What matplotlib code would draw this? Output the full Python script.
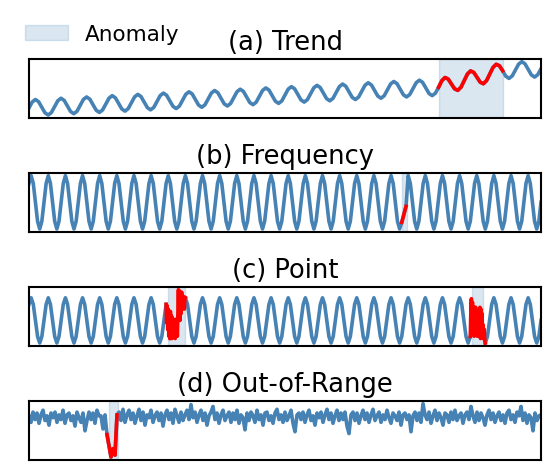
import matplotlib

matplotlib.use("Agg")
import matplotlib.pyplot as plt
import numpy as np

nan = float("nan")

titles = ["(a) Trend", "(b) Frequency", "(c) Point", "(d) Out-of-Range"]
legend_label = "Anomaly"

# (a) slow trend, then a steeper rise inside the anomaly window
trend_values = [
    0.00, 0.73, 1.04, 0.77, 0.08, -0.61, -0.88, -0.57,
    0.16, 0.89, 1.20, 0.93, 0.24, -0.45, -0.72, -0.41,
    0.32, 1.05, 1.36, 1.09, 0.40, -0.29, -0.56, -0.25,
    0.48, 1.21, 1.52, 1.25, 0.56, -0.13, -0.40, -0.09,
    0.64, 1.37, 1.68, 1.41, 0.72, 0.03, -0.24, 0.07,
    0.80, 1.53, 1.84, 1.57, 0.88, 0.19, -0.08, 0.23,
    0.96, 1.69, 2.00, 1.73, 1.04, 0.35, 0.08, 0.39,
    1.12, 1.85, 2.16, 1.89, 1.20, 0.51, 0.24, 0.55,
    1.28, 2.01, 2.32, 2.05, 1.36, 0.67, 0.40, 0.71,
    1.44, 2.17, 2.48, 2.21, 1.52, 0.83, 0.56, 0.87,
    1.60, 2.33, 2.64, 2.37, 1.68, 0.99, 0.72, 1.03,
    1.76, 2.49, 2.80, 2.53, 1.84, 1.15, 0.88, 1.19,
    1.92, 2.65, 2.96, 2.69, 2.00, 1.31, 1.04, 1.35,
    2.08, 2.81, 3.12, 2.85, 2.16, 1.47, 1.20, 1.51,
    2.24, 2.97, 3.28, 3.01, 2.32, 1.63, 1.36, 1.67,
    2.40, 3.13, 3.44, 3.17, 2.48, 1.79, 1.52, 1.83,
    2.56, 3.37, 3.77, 3.58, 2.97, 2.37, 2.18, 2.57,
    3.38, 4.20, 4.59, 4.40, 3.80, 3.19, 3.00, 3.40,
    4.21, 5.02, 5.41, 5.23, 4.62, 3.93, 3.66, 3.97,
    4.70, 5.43, 5.74, 5.47, 4.78, 4.09, 3.82, 4.13,
    4.86,
]
trend_red = (128, 148)
trend_span = (128, 148)

# (b) regular sine, slowed down for a few samples
freq_values = [
    0.71, 1, 0.71, 0, -0.71, -1, -0.71, 0,
    0.71, 1, 0.71, 0, -0.71, -1, -0.71, 0,
    0.71, 1, 0.71, 0, -0.71, -1, -0.71, 0,
    0.71, 1, 0.71, 0, -0.71, -1, -0.71, 0,
    0.71, 1, 0.71, 0, -0.71, -1, -0.71, 0,
    0.71, 1, 0.71, 0, -0.71, -1, -0.71, 0,
    0.71, 1, 0.71, 0, -0.71, -1, -0.71, 0,
    0.71, 1, 0.71, 0, -0.71, -1, -0.71, 0,
    0.71, 1, 0.71, 0, -0.71, -1, -0.71, 0,
    0.71, 1, 0.71, 0, -0.71, -1, -0.71, 0,
    0.71, 1, 0.71, 0, -0.71, -1, -0.71, 0,
    0.71, 1, 0.71, 0, -0.71, -1, -0.71, 0,
    0.71, 1, 0.71, 0, -0.71, -1, -0.71, 0,
    0.71, 1, 0.71, 0, -0.71, -1, -0.71, 0,
    0.71, 1, 0.71, 0, -0.71, -1, -0.71, 0,
    0.71, 1, 0.71, 0, -0.71, -1, -0.71, 0,
    0.71, 1, 0.71, 0, -0.71, -1, -0.71, 0,
    0.71, 1, 0.71, 0, -0.71, -1, -0.71, 0,
    0.71, 1, 0.71, 0, -0.71, -1, -0.71, 0,
    0.71, 1, 0.71, 0, -0.71, -1, -0.71, 0,
    0.71, 1, 0.71, 0, -0.71, -1, -0.71, 0,
    0.71, 1, 0.71, 0, -0.71, -1, -0.75, -0.45,
    -0.15, 1, 0.71, 0, -0.71, -1, -0.71, 0,
    0.71, 1, 0.71, 0, -0.71, -1, -0.71, 0,
    0.71, 1, 0.71, 0, -0.71, -1, -0.71, 0,
    0.71, 1, 0.71, 0, -0.71, -1, -0.71, 0,
    0.71, 1, 0.71, 0, -0.71, -1, -0.71, 0,
    0.71, 1, 0.71, 0, -0.71, -1, -0.71, 0,
    0.71, 1, 0.71, 0, -0.71, -1, -0.71, 0,
    0.71, 1, 0.71, 0, -0.71, -1, -0.71, 0,
]
freq_red = (174, 176)
freq_span = (174.3, 176.5)

# (c) same sine, two noisy bursts (gaps filled by the red segments)
point_values = [
    0.71, 1, 0.71, 0, -0.71, -1, -0.71, 0,
    0.71, 1, 0.71, 0, -0.71, -1, -0.71, 0,
    0.71, 1, 0.71, 0, -0.71, -1, -0.71, 0,
    0.71, 1, 0.71, 0, -0.71, -1, -0.71, 0,
    0.71, 1, 0.71, 0, -0.71, -1, -0.71, 0,
    0.71, 1, 0.71, 0, -0.71, -1, -0.71, 0,
    0.71, 1, 0.71, 0, -0.71, -1, -0.71, 0,
    0.71, 1, 0.71, 0, -0.71, -1, -0.71, 0,
    0.71, nan, nan, nan, nan, nan, nan, nan,
    nan, 1, 0.71, 0, -0.71, -1, -0.71, 0,
    0.71, 1, 0.71, 0, -0.71, -1, -0.71, 0,
    0.71, 1, 0.71, 0, -0.71, -1, -0.71, 0,
    0.71, 1, 0.71, 0, -0.71, -1, -0.71, 0,
    0.71, 1, 0.71, 0, -0.71, -1, -0.71, 0,
    0.71, 1, 0.71, 0, -0.71, -1, -0.71, 0,
    0.71, 1, 0.71, 0, -0.71, -1, -0.71, 0,
    0.71, 1, 0.71, 0, -0.71, -1, -0.71, 0,
    0.71, 1, 0.71, 0, -0.71, -1, -0.71, 0,
    0.71, 1, 0.71, 0, -0.71, -1, -0.71, 0,
    0.71, 1, 0.71, 0, -0.71, -1, -0.71, 0,
    0.71, 1, 0.71, 0, -0.71, -1, -0.71, 0,
    0.71, 1, 0.71, 0, -0.71, -1, -0.71, 0,
    0.71, 1, 0.71, 0, -0.71, -1, -0.71, 0,
    0.71, 1, 0.71, 0, -0.71, -1, -0.71, 0,
    0.71, 1, 0.71, 0, -0.71, -1, -0.71, 0,
    0.71, 1, 0.71, 0, -0.71, -1, -0.71, nan,
    nan, nan, nan, nan, nan, -1, -0.71, 0,
    0.71, 1, 0.71, 0, -0.71, -1, -0.71, 0,
    0.71, 1, 0.71, 0, -0.71, -1, -0.71, 0,
    0.71, 1, 0.71, 0, -0.71, -1, -0.71, 0,
]
point_burst1_x = [
    64, 64.25, 64.5, 64.75, 65, 65.25, 65.5, 65.75, 66, 66.25,
    66.5, 66.75, 67, 67.25, 67.5, 67.75, 68, 68.25, 68.5, 68.75,
    69, 69.25, 69.5, 69.75, 70, 70.25, 70.5, 70.75, 71, 71.25,
    71.5, 71.75, 72, 72.25, 72.5, 72.75, 73,
]
point_burst1_y = [
    0.71, -0.1, 0.65, -0.4, 0.5, -0.7, 0.3, -0.81, 0.4, -0.5,
    0.2, -0.8, 0.1, -0.6, 0.0, -0.75, -0.1, -0.8, 0.05, -0.6,
    -0.1, -0.7, 0.3, 1.36, 0.1, 1.3, 0.0, 1.2, 0.3, 1.25,
    0.5, 1.0, 0.55, 1.05, 0.5, 0.95, 1.0,
]
point_burst2_x = [
    206, 206.25, 206.5, 206.75, 207, 207.25, 207.5, 207.75, 208, 208.25,
    208.5, 208.75, 209, 209.25, 209.5, 209.75, 210, 210.25, 210.5, 210.75,
    211, 211.25, 211.5, 211.75, 212, 212.25, 212.5, 212.75, 213,
]
point_burst2_y = [
    -0.71, 0.4, 0.96, -0.6, 0.8, -0.5, 0.6, -0.7, 0.5, -0.3,
    0.58, -0.6, 0.2, -0.7, 0.4, -0.5, 0.1, -0.6, 0.58, -0.8,
    0.5, -0.7, 0.3, -0.8, -0.2, -0.7, -0.4, -0.9, -1.0,
]
point_spans = [(64.7, 72.8), (206.9, 211.9)]

# (d) noise around zero with one deep drop
range_values = [
    0.2, -0.5, 0.6, -0.2, 0.5, -0.6, 0.3, 0.8, -0.3, 0.2, -0.8, 0.5, 0.0, 0.6, -0.5, 0.3,
    -0.2, 0.8, -0.6, 0.3, 0.5, -0.3, 0.2, -0.9, 0.6, 0.0, -0.5, 0.5, -1.4, -0.3, 0.6, -0.2,
    0.5, -0.6, 0.8, 0.2, 0.2, -1.2, 0.3, -1.8, -3.0, -4.2, -3.3, -4.0, 0.3, 0.6, -0.3, 0.9,
    -0.5, 0.3, 0.8, -0.2, 0.5, -0.6, 0.2, 0.9, -0.3, 0.6, -0.8, 0.3, 0.0, 0.8, -0.5, 0.2,
    0.6, -0.3, 0.5, -0.9, 0.3, 0.8, -0.2, 0.5, -0.6, 0.9, 0.2, -0.5, 0.6, -0.3, 0.3, 0.8,
    -0.2, 1.4, 0.0, 0.6, -0.5, 0.3, 0.8, -0.3, 0.5, -0.8, 0.2, 0.6, 1.2, -0.2, 0.5, -0.6,
    0.3, 0.8, -0.3, 0.2, 0.6, -0.5, 0.5, -0.2, 0.8, -0.6, 0.3, 0.0, -1.3, 0.5, -0.3, 0.6,
    0.2, -0.5, 0.8, -0.2, 0.3, -0.8, 0.5, 0.6, -0.3, 0.2, -0.6, 0.5, 0.9, -0.2, 0.3, -0.5,
    0.6, -0.3, 0.2, 0.8, -0.6, -1.5, 0.3, 0.5, -0.2, 0.6, -0.5, 0.3, 0.8, -0.3, 0.2, -0.8,
    0.5, 0.0, 0.6, -0.5, 0.3, 0.9, -0.2, 0.5, -0.6, 0.2, 0.8, -0.3, 0.5, -0.2, 0.6, -0.9,
    -1.7, 0.3, 0.6, -0.3, 0.5, -0.6, 0.2, 0.8, -0.2, 0.5, -0.5, 0.3, 0.9, -0.3, 0.2, 0.6,
    -0.5, 0.3, -0.2, 0.8, 0.0, -0.6, 0.5, 0.2, -0.3, 0.6, -0.8, 0.3, 0.5, -0.2, 0.3, -1.5,
    0.2, 0.6, -0.3, 0.5, -0.5, 1.5, 0.3, -0.2, 0.6, -0.6, 0.2, 0.8, -0.3, 0.5, 0.0, -0.8,
    0.5, 0.3, -0.5, 0.6, -0.2, 0.8, -0.3, 0.2, 0.5, -0.6, 0.3, 0.6, -0.2, 1.2, 0.2, -0.5,
    0.6, -0.3, 0.5, 0.0, -0.8, 0.3, 0.8, -0.2, 0.5, -0.5, 0.2, 0.6, -0.3, 0.3, -0.6, 0.5,
    0.8, -0.2, 0.3, -0.5, 0.6, 0.2, 1.2, -0.3, 0.5, -0.6, 0.3, 0.0, -1.4, 0.5, -0.3, 0.2,
    0.3,
]
range_red = (39, 44)
range_span = (40.1, 44.35)

BLUE = "steelblue"
RED = "red"
LW = 2.6


def style_axis(ax, title):
    ax.set_xticks([])
    ax.set_yticks([])
    for spine in ax.spines.values():
        spine.set_linewidth(1.5)
        spine.set_color("black")
    ax.set_title(title, fontsize=18.5, pad=7)


def plot_series(ax, values, red, spans):
    t = np.arange(len(values))
    y = np.array(values, dtype=float)
    ax.plot(t, y, color=BLUE, linewidth=LW)
    if red is not None:
        ax.plot(t[red[0]:red[1] + 1], y[red[0]:red[1] + 1], color=RED, linewidth=LW)
    span = None
    for s0, s1 in spans:
        span = ax.axvspan(s0, s1, color=BLUE, alpha=0.2)
    ax.set_xlim(0, len(values) - 1)
    return span


def main():
    fig = plt.figure(figsize=(5.57, 4.77), dpi=100, facecolor="w")
    left, width, height = 29 / 557, 512 / 557, 58.7 / 477
    bottoms = [0.7512, 0.5122, 0.2732, 0.0342]
    axes = [fig.add_axes([left, b, width, height]) for b in bottoms]

    span = plot_series(axes[0], trend_values, trend_red, [trend_span])
    plot_series(axes[1], freq_values, freq_red, [freq_span])
    plot_series(axes[2], point_values, None, point_spans)
    axes[2].plot(point_burst1_x, point_burst1_y, color=RED, linewidth=LW)
    axes[2].plot(point_burst2_x, point_burst2_y, color=RED, linewidth=LW)
    plot_series(axes[3], range_values, range_red, [range_span])

    for ax, title in zip(axes, titles):
        style_axis(ax, title)

    fig.legend(
        handles=[span],
        labels=[legend_label],
        loc="upper left",
        bbox_to_anchor=(0.010, 0.988),
        frameon=False,
        fontsize=15.5,
    )
    fig.savefig("out.png", dpi=100)
    plt.close(fig)


if __name__ == "__main__":
    main()
